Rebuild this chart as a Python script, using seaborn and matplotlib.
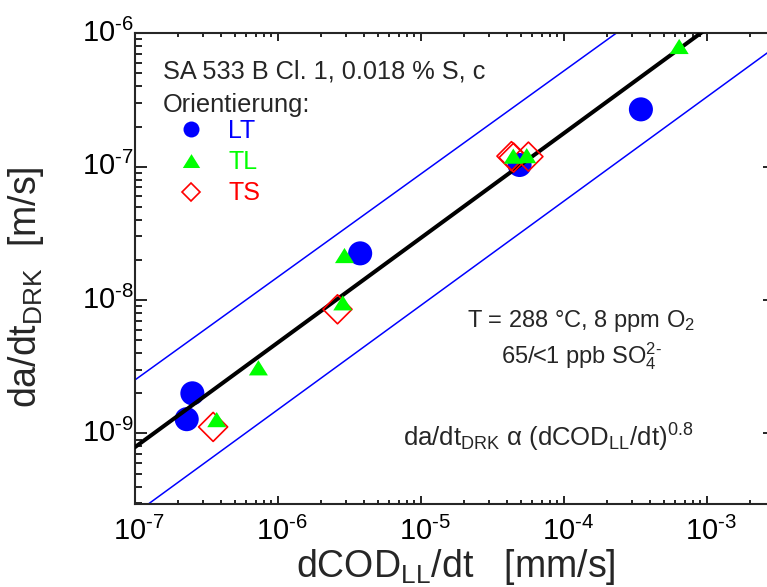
import matplotlib
matplotlib.use("Agg")
import matplotlib.pyplot as plt
import seaborn as sns
from matplotlib.lines import Line2D
from matplotlib.path import Path
from matplotlib import ticker
from matplotlib.transforms import ScaledTranslation

# ---- data ----
lt_x = [2.30e-7, 2.52e-7, 3.76e-6, 4.9e-5, 3.46e-4]
lt_y = [1.28e-9, 2.0e-9, 2.24e-8, 1.03e-7, 2.69e-7]
tl_x = [3.73e-7, 7.3e-7, 2.84e-6, 2.92e-6, 4.43e-5, 5.5e-5, 6.41e-4]
tl_y = [1.26e-9, 3.08e-9, 9.46e-9, 2.14e-8, 1.19e-7, 1.2e-7, 7.9e-7]
ts_x = [3.52e-7, 2.61e-6, 4.3e-5, 4.45e-5, 5.65e-5]
ts_y = [1.12e-9, 8.53e-9, 1.2e-7, 1.17e-7, 1.19e-7]

fit_x = [1e-7, 1.2e-3]
fit_y = [7.9e-10, 1.25e-6]
upper_x = [1e-7, 3e-4]
upper_y = [2.52e-9, 1.22e-6]
lower_x = [1.24e-7, 3e-3]
lower_y = [2.96e-10, 7.86e-7]

labels = ["LT", "TL", "TS"]
colors = ["#0000ff", "#00ff00", "#ff0000"]

x_major = [1e-7, 1e-6, 1e-5, 1e-4, 1e-3]
x_major_labels = ["-7", "-6", "-5", "-4", "-3"]
y_major = [1e-9, 1e-8, 1e-7, 1e-6]
y_major_labels = ["-9", "-8", "-7", "-6"]

xlim = (1e-7, 3e-3)
ylim = (2.96e-10, 1e-6)

# ---- style ----
sns.set_style("ticks")
plt.rcParams["font.family"] = ["Liberation Sans", "DejaVu Sans"]
plt.rcParams["mathtext.fontset"] = "custom"
plt.rcParams["mathtext.rm"] = "Liberation Sans"
plt.rcParams["mathtext.it"] = "Liberation Sans:italic"
plt.rcParams["mathtext.bf"] = "Liberation Sans:bold"
plt.rcParams["mathtext.sf"] = "Liberation Sans"

W, H = 767, 587
fig = plt.figure(figsize=(W / 100, H / 100), dpi=100)
ax = fig.add_axes([135 / W, (H - 504) / H, (775 - 135) / W, (504 - 33.3) / H])
ax.set_xscale("log")
ax.set_yscale("log")
ax.set_xlim(*xlim)
ax.set_ylim(*ylim)

tri = Path([(-1, -0.75), (1, -0.75), (0, 0.85), (-1, -0.75)],
           [Path.MOVETO, Path.LINETO, Path.LINETO, Path.CLOSEPOLY])

# band lines
sns.lineplot(x=upper_x, y=upper_y, ax=ax, color="#0000ff", lw=1.1, zorder=2)
sns.lineplot(x=lower_x, y=lower_y, ax=ax, color="#0000ff", lw=1.1, zorder=2)
# LT circles
sns.scatterplot(x=lt_x, y=lt_y, ax=ax, marker="o", s=300, color=colors[0],
                edgecolor="none", linewidth=0, zorder=3)
# fit line
sns.lineplot(x=fit_x, y=fit_y, ax=ax, color="black", lw=2.9, zorder=4)
# TS diamonds
sns.scatterplot(x=ts_x, y=ts_y, ax=ax, marker="D", s=218, color="none",
                edgecolor=colors[2], linewidth=1.2, zorder=5)
# TL triangles
sns.scatterplot(x=tl_x, y=tl_y, ax=ax, marker=tri, s=187, color=colors[1],
                edgecolor="none", linewidth=0, zorder=6)

# ---- axes styling ----
for sp in ax.spines.values():
    sp.set_linewidth(1.5)
    sp.set_visible(True)
ax.tick_params(axis="both", which="both", direction="in", top=True, right=True,
               width=1.2, colors="black")
ax.tick_params(axis="x", which="major", length=6, pad=9, labelsize=21)
ax.tick_params(axis="x", which="minor", length=3.2)
ax.tick_params(axis="y", which="major", length=8.6, pad=1, labelsize=21)
ax.tick_params(axis="y", which="minor", length=5)
ax.xaxis.set_major_locator(ticker.FixedLocator(x_major))
ax.yaxis.set_major_locator(ticker.FixedLocator(y_major))
ax.xaxis.set_major_formatter(ticker.FixedFormatter(
    ["10$^{\\text{%s}}$" % e for e in x_major_labels]))
ax.yaxis.set_major_formatter(ticker.FixedFormatter(
    ["10$^{\\text{%s}}$" % e for e in y_major_labels]))
ax.xaxis.set_minor_locator(ticker.LogLocator(base=10, subs=range(2, 10), numticks=50))
ax.yaxis.set_minor_locator(ticker.LogLocator(base=10, subs=range(2, 10), numticks=50))
ax.xaxis.set_minor_formatter(ticker.NullFormatter())
ax.yaxis.set_minor_formatter(ticker.NullFormatter())
ax.set_xlabel("")
ax.set_ylabel("")
for lab in ax.get_yticklabels():
    lab.set_transform(lab.get_transform() + ScaledTranslation(0, 3 / 100, fig.dpi_scale_trans))
for lab in ax.get_xticklabels():
    lab.set_transform(lab.get_transform() + ScaledTranslation(4 / 100, 0, fig.dpi_scale_trans))

# axis titles
fig.text(456 / W, 1 - 567 / H, "dCOD$_{\\mathrm{LL}}$/dt   [mm/s]", fontsize=27,
         ha="center", va="center")
fig.text(26 / W, 1 - 287 / H, "da/dt$_{\\mathrm{DRK}}$  [m/s]", fontsize=27,
         ha="center", va="center", rotation=90)

# annotations
fig.text(163 / W, 1 - 79 / H, "SA 533 B Cl. 1, 0.018 % S, c", fontsize=18.3,
         ha="left", va="baseline")
fig.text(163 / W, 1 - 112 / H, "Orientierung:", fontsize=18.3, ha="left", va="baseline")
fig.text(581 / W, 1 - 327 / H, "T = 288 °C, 8 ppm O$_{2}$", fontsize=17,
         ha="center", va="baseline")
fig.text(581 / W, 1 - 363 / H, "65/<1 ppb SO$_{4}^{\\text{2-}}$", fontsize=17,
         ha="center", va="baseline")
fig.text(548 / W, 1 - 447 / H,
         "da/dt$_{\\mathrm{DRK}}$ α (dCOD$_{\\mathrm{LL}}$/dt)$^{0.8}$", fontsize=18.5,
         ha="center", va="baseline")

# legend
handles = [
    Line2D([], [], ls="", marker="o", ms=11.5, mfc=colors[0], mec="none"),
    Line2D([], [], ls="", marker=tri, ms=12.5, mfc=colors[1], mec="none"),
    Line2D([], [], ls="", marker="D", ms=9.2, mfc="none", mec=colors[2], mew=1.2),
]
ax.legend(handles, labels, loc="upper left",
          bbox_to_anchor=(178.5 / W, 1 - 119 / H), bbox_transform=fig.transFigure,
          frameon=False, fontsize=18, labelcolor=colors, handlelength=1.0,
          handletextpad=1.0, labelspacing=0.29, borderpad=0, borderaxespad=0)

fig.savefig("out.png", dpi=100)
